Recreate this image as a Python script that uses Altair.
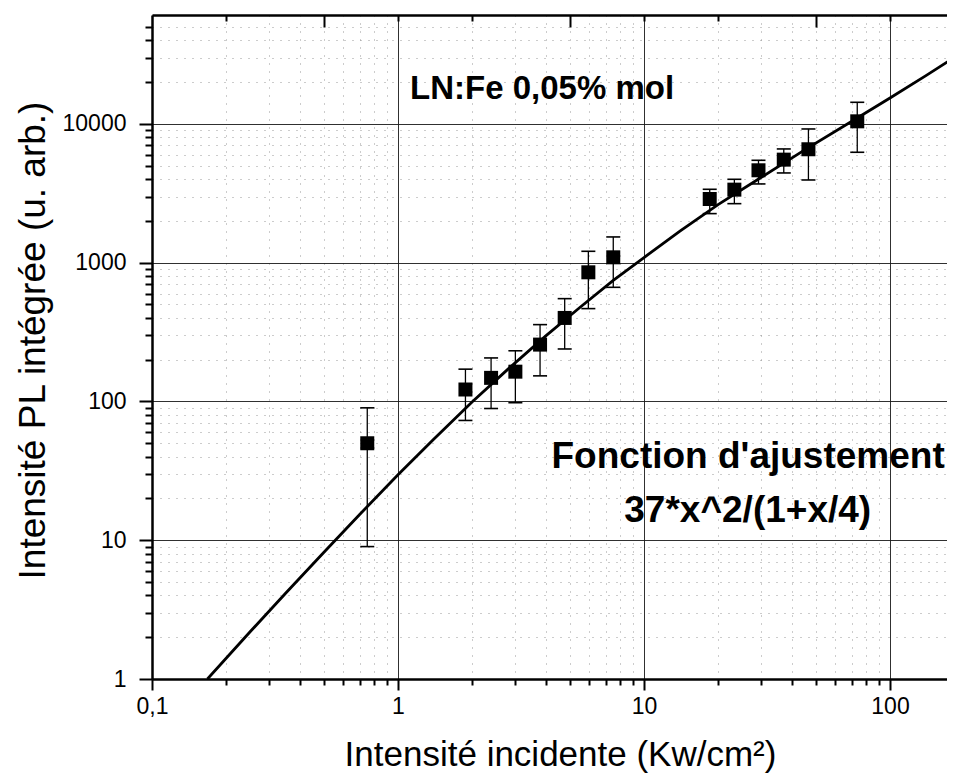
import altair as alt
import pandas as pd

pts_x = [0.75, 1.88, 2.39, 3.0, 3.78, 4.76, 5.94, 7.5, 18.5, 23.3, 29.2, 37.0, 46.6, 73.6]
pts_y = [50, 122, 148, 164, 257, 400, 853, 1094, 2880, 3363, 4637, 5533, 6573, 10450]
err_lo = [9, 73, 89, 98, 153, 239, 467, 665, 2259, 2665, 3697, 4436, 3948, 6252]
err_hi = [90, 171, 206, 232, 358, 551, 1209, 1534, 3383, 3993, 5473, 6607, 9204, 14330]

fit_x = [0.168, 0.25, 0.35, 0.5, 0.7, 1.0, 1.4, 2.0, 2.8, 4.0, 5.5, 7.5, 10, 14,
         20, 30, 45, 70, 100, 140, 190]
fit_y = [1.0, 2.18, 4.17, 8.2, 15.4, 29.6, 53.7, 99, 171, 298, 478, 745, 1090, 1690,
         2620, 4130, 6500, 10450, 15400, 22300, 31500]

x_major = [0.1, 1, 10, 100]
x_minor = [0.2, 0.3, 0.4, 0.5, 0.6, 0.7, 0.8, 0.9, 2, 3, 4, 5, 6, 7, 8, 9,
           20, 30, 40, 50, 60, 70, 80, 90]
y_major = [1, 10, 100, 1000, 10000]
y_minor = [2, 3, 4, 5, 6, 7, 8, 9, 20, 30, 40, 50, 60, 70, 80, 90,
           200, 300, 400, 500, 600, 700, 800, 900,
           2000, 3000, 4000, 5000, 6000, 7000, 8000, 9000,
           20000, 30000, 40000, 50000]
top_long = [0.5, 5, 50]
top_short = [0.2, 1, 2, 10, 20, 100]

label_sample = ["LN:Fe 0,05% mol"]
label_fit1 = ["Fonction d'ajustement"]
label_fit2 = ["37*x^2/(1+x/4)"]

x_title = "Intensité incidente (Kw/cm²)"
y_title = "Intensité PL intégrée (u. arb.)"

pts = pd.DataFrame({"x": pts_x, "y": pts_y, "lo": err_lo, "hi": err_hi})
fit = pd.DataFrame({"x": fit_x, "y": fit_y})

FONT = "Liberation Sans"
xs = alt.Scale(type="log", domain=[0.1, 170.5], nice=False)
ys = alt.Scale(type="log", domain=[1, 61000], nice=False)

ax_x_major = alt.Axis(
    orient="bottom", values=x_major,
    labelExpr="datum.value < 0.5 ? '0,1' : format(datum.value, 'd')",
    tickSize=11, tickWidth=2, tickColor="black",
    domain=True, domainWidth=2.5, domainColor="black",
    labelFont=FONT, labelFontSize=23, labelColor="black", labelPadding=5,
    labelFlush=False, labelOverlap=False,
    grid=True, gridColor="#1a1a1a", gridWidth=1, gridOpacity=0.9,
    title=x_title, titleFont=FONT, titleFontSize=35, titleFontWeight="normal",
    titleColor="black", titleBaseline="alphabetic", titleX=408, titleY=86,
)
ax_x_minor = alt.Axis(
    orient="bottom", values=x_minor, labels=False, domain=False,
    tickSize=6, tickWidth=2, tickColor="black",
    grid=True, gridColor="#999999", gridDash=[1, 7], gridWidth=1,
    title=None,
)
ax_y_major = alt.Axis(
    orient="left", values=y_major,
    labelExpr="format(datum.value, 'd')",
    tickSize=13, tickWidth=2, tickColor="black",
    domain=True, domainWidth=2.5, domainColor="black",
    labelFont=FONT, labelFontSize=23, labelColor="black", labelPadding=13,
    labelOverlap=False,
    grid=True, gridColor="#1a1a1a", gridWidth=1, gridOpacity=0.9,
    title=y_title, titleFont=FONT, titleFontSize=37, titleFontWeight="normal",
    titleColor="black", titleBaseline="alphabetic", titleAngle=270,
    titleX=-108, titleY=325,
)
ax_y_minor = alt.Axis(
    orient="left", values=y_minor, labels=False, domain=False,
    tickSize=7, tickWidth=2, tickColor="black",
    grid=True, gridColor="#999999", gridDash=[1, 7], gridWidth=1,
    title=None,
)
ax_top_line = alt.Axis(
    orient="top", ticks=False, labels=False, domain=True,
    domainWidth=2.5, domainColor="black", grid=False, title=None,
)
ax_top_long = alt.Axis(
    orient="top", values=top_long, offset=-12, labels=False, domain=False,
    tickSize=12, tickWidth=2, tickColor="black", grid=False, title=None,
)
ax_top_short = alt.Axis(
    orient="top", values=top_short, offset=-6, labels=False, domain=False,
    tickSize=6, tickWidth=2, tickColor="black", grid=False, title=None,
)

fit_line = alt.Chart(fit).mark_line(color="black", strokeWidth=2.8, clip=True).encode(
    x=alt.X("x:Q", scale=xs, axis=ax_x_major),
    y=alt.Y("y:Q", scale=ys, axis=ax_y_major),
)

err_rules = alt.Chart(pts).mark_rule(color="black", strokeWidth=1.3).encode(
    x=alt.X("x:Q", scale=xs, axis=ax_x_minor),
    y=alt.Y("lo:Q", scale=ys, axis=ax_y_minor),
    y2="hi:Q",
)

caps_lo = alt.Chart(pts).mark_tick(orient="horizontal", size=14, thickness=1.6,
                                   color="black", opacity=1).encode(
    x=alt.X("x:Q", scale=xs, axis=ax_top_line),
    y=alt.Y("lo:Q", scale=ys, axis=None),
)

caps_hi = alt.Chart(pts).mark_tick(orient="horizontal", size=14, thickness=1.6,
                                   color="black", opacity=1).encode(
    x=alt.X("x:Q", scale=xs, axis=ax_top_long),
    y=alt.Y("hi:Q", scale=ys, axis=None),
)

points = alt.Chart(pts).mark_square(size=196, color="black", opacity=1).encode(
    x=alt.X("x:Q", scale=xs, axis=ax_top_short),
    y=alt.Y("y:Q", scale=ys, axis=None),
)


def annotation(labels, xd, yd, size):
    return alt.Chart(pd.DataFrame({"label": labels})).mark_text(
        font=FONT, fontSize=size, fontWeight="bold", color="black",
        align="center", baseline="alphabetic",
    ).encode(
        x=alt.XDatum(xd, scale=xs, axis=None),
        y=alt.YDatum(yd, scale=ys, axis=None),
        text="label:N",
    )


t1 = annotation(label_sample, 3.85, 15070, 33)
t2 = annotation(label_fit1, 26.5, 33.2, 37)
t3 = annotation(label_fit2, 26.4, 13.6, 37)

chart = alt.layer(
    fit_line, err_rules, caps_lo, caps_hi, points, t1, t2, t3
).resolve_axis(
    x="independent", y="independent"
).resolve_scale(
    x="shared", y="shared"
).properties(
    width=795, height=664,
    padding={"left": 144, "top": 7, "right": 0, "bottom": 94},
    autosize=alt.AutoSizeParams(type="none"),
    background="white",
).configure_view(stroke=None)

chart.save("out.html", embed_options={"renderer": "svg", "actions": False})
